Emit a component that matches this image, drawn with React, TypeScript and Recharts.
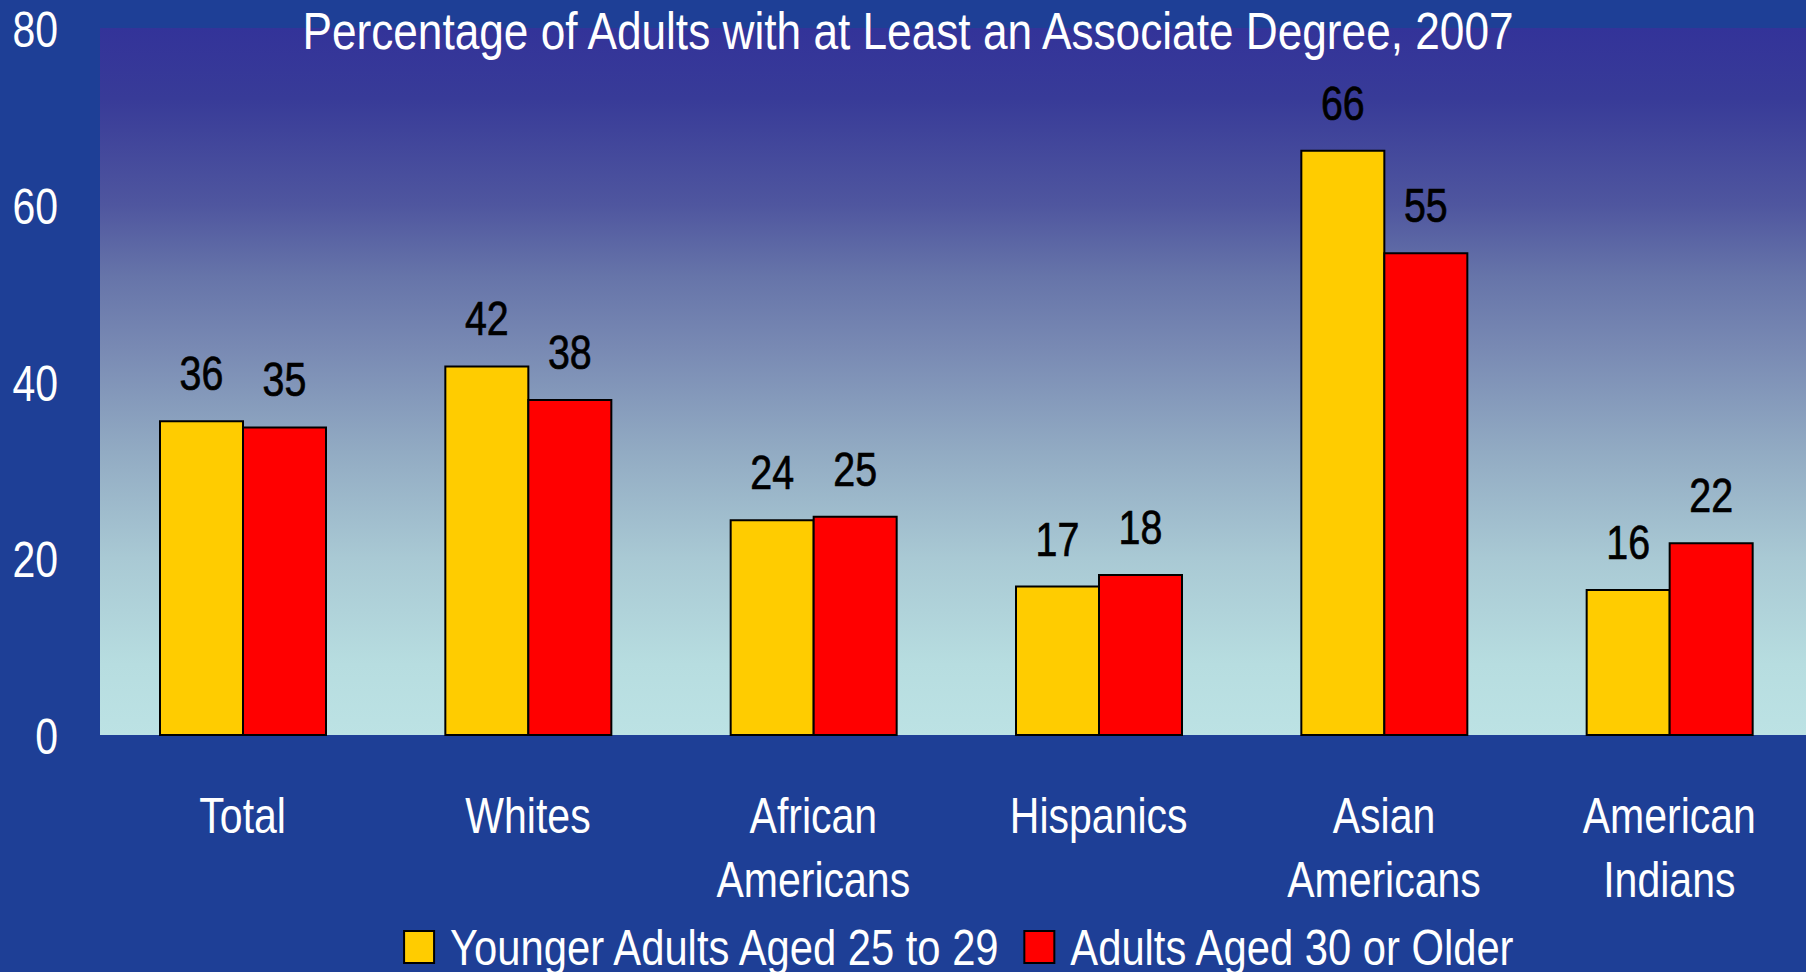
import React from 'react';
import { BarChart, Bar, XAxis, YAxis, CartesianGrid, Legend, LabelList } from 'recharts';

const categories = ['Total', 'Whites', 'African Americans', 'Hispanics', 'Asian Americans', 'American Indians'];
const younger = [35.5, 41.7, 24.3, 16.8, 66.1, 16.4];
const older = [34.8, 37.9, 24.7, 18.1, 54.5, 21.7];
const seriesNames = ['Younger Adults Aged 25 to 29', 'Adults Aged 30 or Older'];
const seriesColors = ['#ffcc00', '#ff0000'];
const yTicks = [0, 20, 40, 60, 80];
const title = 'Percentage of Adults with at Least an Associate Degree, 2007';

const data = categories.map((name, i) => ({ name, younger: younger[i], older: older[i] }));

const FONT = '"Liberation Sans", Arial, sans-serif';
const SX = 0.82; // squeeze Liberation Sans to look like Arial Narrow
const BG = '#1e3f96';

const Narrow = ({ x, y, size, fill = '#fff', anchor = 'middle', sx = SX, stroke, children }: any) => (
  <text
    transform={`translate(${x},${y}) scale(${sx},1)`}
    textAnchor={anchor}
    fontSize={size}
    fontFamily={FONT}
    fill={fill}
    stroke={stroke}
    strokeWidth={stroke ? 0.7 : undefined}
  >
    {children}
  </text>
);

const measure = (text: string, size: number) => {
  const ctx = typeof document !== 'undefined' ? document.createElement('canvas').getContext('2d') : null;
  if (!ctx) return text.length * size * 0.5;
  ctx.font = `${size}px ${FONT}`;
  return ctx.measureText(text).width;
};

// category names wrap on the space, one word per line
const CategoryTick = ({ x, y, payload }: any) => {
  const lines = String(payload.value).split(' ');
  return (
    <Narrow x={x} y={y + 98} size={50}>
      {lines.map((l, i) => (
        <tspan key={i} x={0} dy={i === 0 ? 0 : 64}>
          {l}
        </tspan>
      ))}
    </Narrow>
  );
};

const ValueTick = ({ x, y, payload }: any) => (
  <Narrow x={x} y={y + 19} size={50} anchor="end">
    {payload.value}
  </Narrow>
);

const BarValue = (props: any) => {
  const { x, y, width, value } = props;
  return (
    <Narrow x={Number(x) + Number(width) / 2} y={Number(y) - 31} size={48} fill="#000" stroke="#000">
      {Math.round(Number(value))}
    </Narrow>
  );
};

const LEGEND_W = 1706;
const LEGEND_SX = 0.835;
const renderLegend = ({ payload }: any) => {
  const items = [...(payload || [])].sort(
    (a: any, b: any) => seriesNames.indexOf(a.value) - seriesNames.indexOf(b.value)
  );
  const widths = items.map((e: any) => measure(String(e.value), 50) * LEGEND_SX);
  const total = widths.reduce((s: number, w: number) => s + 30 + 16 + w, 0) + 21 * (items.length - 1);
  let cx = (LEGEND_W - total) / 2;
  return (
    <svg width={LEGEND_W} height={72} style={{ display: 'block', overflow: 'visible' }}>
      {items.map((e: any, i: number) => {
        const sx = cx;
        cx += 30 + 16 + widths[i] + 21;
        return (
          <g key={i}>
            <rect x={sx} y={31} width={30} height={32} fill={e.color} stroke="#000" strokeWidth={2} />
            <Narrow x={sx + 46} y={65} size={50} anchor="start" sx={LEGEND_SX}>
              {e.value}
            </Narrow>
          </g>
        );
      })}
    </svg>
  );
};

const App: React.FC = () => {
  return (
    <div style={{ position: 'absolute', left: 0, top: 0, width: 1806, height: 972, background: BG, overflow: 'hidden' }}>
      <BarChart
        width={1812}
        height={972}
        data={data}
        margin={{ top: 28, right: 0, bottom: 0, left: 0 }}
        barCategoryGap={60}
        barGap={0}
      >
        <defs>
          <linearGradient id="plotGrad" x1="0" y1="0" x2="0" y2="1">
            <stop offset="0%" stopColor="#333399" />
            <stop offset="10%" stopColor="#383b98" />
            <stop offset="25%" stopColor="#4f569f" />
            <stop offset="35%" stopColor="#6674a9" />
            <stop offset="45%" stopColor="#7889b3" />
            <stop offset="60%" stopColor="#92abc3" />
            <stop offset="75%" stopColor="#a9c9d4" />
            <stop offset="90%" stopColor="#b7dde0" />
            <stop offset="100%" stopColor="#bce2e4" />
          </linearGradient>
        </defs>
        <CartesianGrid horizontal={false} vertical={false} fill="url(#plotGrad)" stroke="none" />
        <XAxis
          dataKey="name"
          axisLine={false}
          tickLine={false}
          tickSize={0}
          tickMargin={0}
          height={237}
          interval={0}
          tick={<CategoryTick />}
        />
        <YAxis
          domain={[0, 80]}
          ticks={yTicks}
          width={100}
          axisLine={false}
          tickLine={false}
          tickSize={0}
          tickMargin={42}
          tick={<ValueTick />}
        />
        <Legend
          layout="horizontal"
          verticalAlign="middle"
          align="center"
          wrapperStyle={{ top: 900, left: 107, width: LEGEND_W, height: 72 }}
          content={renderLegend}
        />
        <Bar dataKey="younger" name={seriesNames[0]} fill={seriesColors[0]} stroke="#000" strokeWidth={2} isAnimationActive={false}>
          <LabelList dataKey="younger" content={<BarValue />} />
        </Bar>
        <Bar dataKey="older" name={seriesNames[1]} fill={seriesColors[1]} stroke="#000" strokeWidth={2} isAnimationActive={false}>
          <LabelList dataKey="older" content={<BarValue />} />
        </Bar>
        <Narrow x={908} y={49} size={52} sx={0.85}>
          {title}
        </Narrow>
      </BarChart>
    </div>
  );
};

export default App;
